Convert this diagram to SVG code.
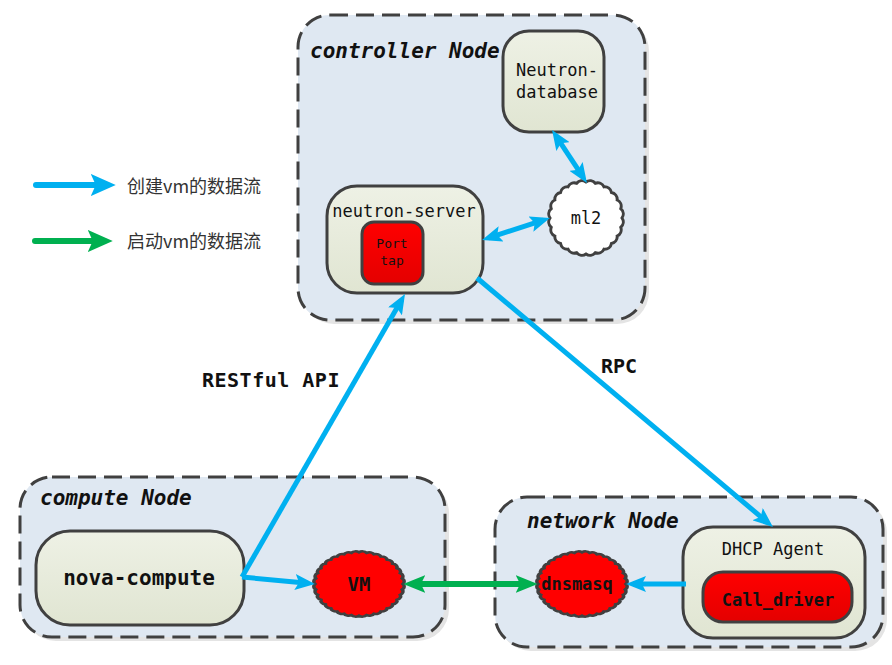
<svg xmlns="http://www.w3.org/2000/svg" xmlns:xlink="http://www.w3.org/1999/xlink" width="892" height="665" viewBox="0 0 892 665">
<style>
.container{fill:#dfe8f2;stroke:#404040;stroke-width:3;stroke-dasharray:18 8}
.shadow{fill:#e4e4e4}
.node{fill:url(#gNode);stroke:#404040;stroke-width:3}
.red{fill:url(#gRed);stroke:#404040;stroke-width:3}
.cloud{stroke:#404040;stroke-width:3;vector-effect:non-scaling-stroke}
.title{font-family:"DejaVu Sans Mono","Liberation Mono",monospace;font-weight:bold;font-style:italic;font-size:21px;fill:#111}
.t{font-family:"DejaVu Sans Mono","Liberation Mono",monospace;font-size:17px;fill:#111;text-anchor:middle}
.b{font-weight:bold}
.lbl{font-family:"DejaVu Sans Mono","Liberation Mono",monospace;font-weight:bold;font-size:20px;fill:#111}
.leg{font-family:"Noto Sans CJK SC","Noto Sans",sans-serif;font-size:18px;fill:#333}
.blue{fill:none;stroke:#00b0f0;stroke-width:5}
.green{fill:none;stroke:#00b050;stroke-width:6}
</style>
<defs>
<linearGradient id="gNode" x1="0" y1="0" x2="0" y2="1"><stop offset="0" stop-color="#eef1e5"/><stop offset="1" stop-color="#e0e5d2"/></linearGradient>
<linearGradient id="gRed" x1="0" y1="0" x2="0" y2="1"><stop offset="0" stop-color="#ff0000"/><stop offset="1" stop-color="#e40000"/></linearGradient>
<marker id="aB" viewBox="0 0 20 16" markerWidth="20" markerHeight="16" refX="13" refY="8" orient="auto-start-reverse" markerUnits="userSpaceOnUse"><path d="M0,0 L20,8 L0,16 L4,8 z" fill="#00b0f0"/></marker>
<marker id="aG" viewBox="0 0 20 16" markerWidth="22" markerHeight="18" refX="13" refY="8" orient="auto-start-reverse" markerUnits="userSpaceOnUse"><path d="M0,0 L20,8 L0,16 L4,8 z" fill="#00b050"/></marker>
<marker id="lB" viewBox="0 0 20 16" markerWidth="25" markerHeight="22" refX="13" refY="8" orient="auto" markerUnits="userSpaceOnUse" preserveAspectRatio="none"><path d="M0,0 L20,8 L0,16 L4,8 z" fill="#00b0f0"/></marker>
<marker id="lG" viewBox="0 0 20 16" markerWidth="25" markerHeight="22" refX="13" refY="8" orient="auto" markerUnits="userSpaceOnUse" preserveAspectRatio="none"><path d="M0,0 L20,8 L0,16 L4,8 z" fill="#00b050"/></marker>
<path id="cloud24" d="M36,0 A7,7 0 0 1 34.77,9.32 A7,7 0 0 1 31.18,18 A7,7 0 0 1 25.46,25.46 A7,7 0 0 1 18,31.18 A7,7 0 0 1 9.32,34.77 A7,7 0 0 1 0,36 A7,7 0 0 1 -9.32,34.77 A7,7 0 0 1 -18,31.18 A7,7 0 0 1 -25.46,25.46 A7,7 0 0 1 -31.18,18 A7,7 0 0 1 -34.77,9.32 A7,7 0 0 1 -36,0 A7,7 0 0 1 -34.77,-9.32 A7,7 0 0 1 -31.18,-18 A7,7 0 0 1 -25.46,-25.46 A7,7 0 0 1 -18,-31.18 A7,7 0 0 1 -9.32,-34.77 A7,7 0 0 1 0,-36 A7,7 0 0 1 9.32,-34.77 A7,7 0 0 1 18,-31.18 A7,7 0 0 1 25.46,-25.46 A7,7 0 0 1 31.18,-18 A7,7 0 0 1 34.77,-9.32 A7,7 0 0 1 36,0 Z"/>
<path id="cloud36" d="M36,0 A4.5,4.5 0 0 1 35.45,6.25 A4.5,4.5 0 0 1 33.83,12.31 A4.5,4.5 0 0 1 31.18,18 A4.5,4.5 0 0 1 27.58,23.14 A4.5,4.5 0 0 1 23.14,27.58 A4.5,4.5 0 0 1 18,31.18 A4.5,4.5 0 0 1 12.31,33.83 A4.5,4.5 0 0 1 6.25,35.45 A4.5,4.5 0 0 1 0,36 A4.5,4.5 0 0 1 -6.25,35.45 A4.5,4.5 0 0 1 -12.31,33.83 A4.5,4.5 0 0 1 -18,31.18 A4.5,4.5 0 0 1 -23.14,27.58 A4.5,4.5 0 0 1 -27.58,23.14 A4.5,4.5 0 0 1 -31.18,18 A4.5,4.5 0 0 1 -33.83,12.31 A4.5,4.5 0 0 1 -35.45,6.25 A4.5,4.5 0 0 1 -36,0 A4.5,4.5 0 0 1 -35.45,-6.25 A4.5,4.5 0 0 1 -33.83,-12.31 A4.5,4.5 0 0 1 -31.18,-18 A4.5,4.5 0 0 1 -27.58,-23.14 A4.5,4.5 0 0 1 -23.14,-27.58 A4.5,4.5 0 0 1 -18,-31.18 A4.5,4.5 0 0 1 -12.31,-33.83 A4.5,4.5 0 0 1 -6.25,-35.45 A4.5,4.5 0 0 1 0,-36 A4.5,4.5 0 0 1 6.25,-35.45 A4.5,4.5 0 0 1 12.31,-33.83 A4.5,4.5 0 0 1 18,-31.18 A4.5,4.5 0 0 1 23.14,-27.58 A4.5,4.5 0 0 1 27.58,-23.14 A4.5,4.5 0 0 1 31.18,-18 A4.5,4.5 0 0 1 33.83,-12.31 A4.5,4.5 0 0 1 35.45,-6.25 A4.5,4.5 0 0 1 36,0 Z"/>
</defs>
<rect width="892" height="665" fill="#ffffff"/>

<g id="controller-node">
<rect class="shadow" x="302" y="19" width="347" height="305" rx="32"/>
<rect class="container" x="298" y="15" width="347" height="305" rx="32"/>
<text class="title" x="310" y="58">controller Node</text>
</g>
<g id="compute-node">
<rect class="shadow" x="24" y="481" width="425" height="160" rx="32"/>
<rect class="container" x="20" y="477" width="425" height="160" rx="32"/>
<text class="title" x="40" y="505">compute Node</text>
</g>
<g id="network-node">
<rect class="shadow" x="499" y="501" width="388" height="150" rx="32"/>
<rect class="container" x="495" y="497" width="388" height="150" rx="32"/>
<text class="title" x="527" y="528">network Node</text>
</g>

<g id="neutron-database">
<rect class="node" x="503" y="31" width="101" height="101" rx="26"/>
<text class="t" x="557" y="76">Neutron-</text>
<text class="t" x="557" y="98">database</text>
</g>
<g id="ml2">
<use xlink:href="#cloud24" class="cloud" fill="#ffffff" transform="translate(586,218)"/>
<text class="t" x="586" y="224">ml2</text>
</g>
<g id="neutron-server">
<rect class="node" x="327" y="186" width="156" height="107" rx="30"/>
<text class="t" x="404" y="217">neutron-server</text>
</g>
<g id="port-tap">
<rect class="red" x="362" y="222" width="61" height="62" rx="12"/>
<text class="t" x="392" y="248" style="font-size:13px">Port</text>
<text class="t" x="392" y="265" style="font-size:13px">tap</text>
</g>
<g id="nova-compute">
<rect class="node" x="36" y="531" width="208" height="94" rx="34"/>
<text class="t b" x="139" y="585" style="font-size:21px">nova-compute</text>
</g>
<g id="vm">
<use xlink:href="#cloud36" class="cloud" fill="#ff0000" transform="translate(359,584) scale(1.22,0.88)"/>
<text class="t b" x="359" y="591" style="font-size:19px">VM</text>
</g>
<g id="dnsmasq">
<use xlink:href="#cloud36" class="cloud" fill="#ff0000" transform="translate(582,584) scale(1.22,0.88)"/>
<text class="t b" x="577" y="590" style="font-size:17px">dnsmasq</text>
</g>
<g id="dhcp-agent">
<rect class="node" x="683" y="527" width="182" height="111" rx="30"/>
<text class="t" x="773" y="555">DHCP Agent</text>
</g>
<g id="call-driver">
<rect class="red" x="703" y="572" width="149" height="50" rx="20"/>
<text class="t b" x="778" y="606">Call_driver</text>
</g>

<g id="connectors">
<path class="blue" d="M555.9,135.8 L583.1,177.2" marker-start="url(#aB)" marker-end="url(#aB)"/>
<path class="blue" d="M488.7,237.8 L543.3,220.2" marker-start="url(#aB)" marker-end="url(#aB)"/>
<path class="blue" d="M242,577 L401.5,300.1" marker-end="url(#aB)"/>
<path class="blue" d="M242,577 L308,583.3" marker-end="url(#aB)"/>
<path class="blue" d="M477,278 L767.6,522.5" marker-end="url(#aB)"/>
<path class="blue" d="M686,584 L633,584" marker-end="url(#aB)"/>
<path class="green" d="M411,584 L530,584" marker-start="url(#aG)" marker-end="url(#aG)"/>
<text class="lbl" x="202" y="387" style="letter-spacing:0.5px">RESTful API</text>
<text class="lbl" x="601" y="373">RPC</text>
</g>

<g id="legend">
<path class="blue" d="M36,185 L107,185" style="stroke-width:6;stroke-linecap:round" marker-end="url(#lB)"/>
<text class="leg" x="127" y="193">创建vm的数据流</text>
<path class="green" d="M35,241 L104,241" style="stroke-linecap:round" marker-end="url(#lG)"/>
<text class="leg" x="127" y="248">启动vm的数据流</text>
</g>
</svg>
